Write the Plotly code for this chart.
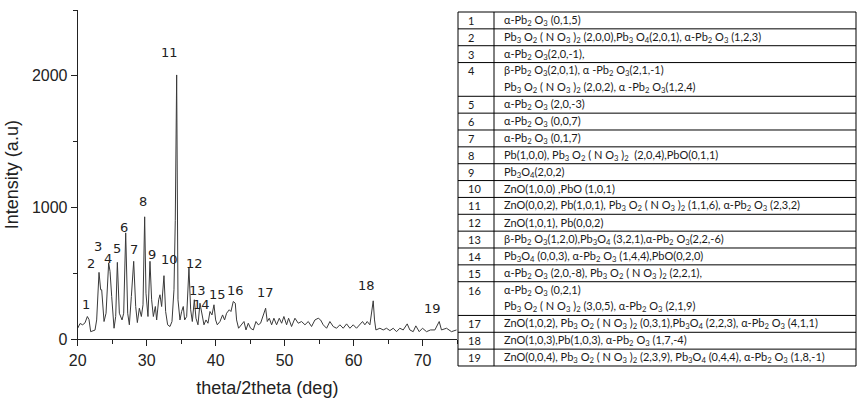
import plotly.graph_objects as go

# ---- spectrum data ----
two_theta = [20.0, 20.34, 20.72, 21.06, 21.4, 21.64, 21.88, 22.51, 22.75, 23.09, 23.33, 23.48, 23.82, 24.11,
             24.49, 24.69, 24.93, 25.27, 25.51, 25.75, 26.04, 26.43, 26.67, 26.96, 27.25, 27.49, 27.78, 28.12,
             28.41, 28.65, 28.94, 29.23, 29.47, 29.71, 29.90, 30.19, 30.48, 30.72, 30.97, 31.26, 31.45, 31.74,
             31.93, 32.17, 32.51, 32.75, 33.04, 33.38, 33.67, 33.96, 34.15, 34.35, 34.54, 34.83, 35.07, 35.31,
             35.51, 35.80, 36.13, 36.38, 36.62, 36.91, 37.15, 37.44, 37.73, 38.02, 38.31, 38.60, 38.89, 39.18,
             39.47, 39.76, 40.0, 40.24, 40.63, 41.01, 41.30, 41.59, 41.98, 42.22, 42.56, 42.85, 43.04, 43.33,
             43.72, 44.11, 44.40, 44.73, 45.07, 45.46, 45.85, 46.18, 46.52, 46.91, 47.25, 47.49, 47.78, 48.12,
             48.45, 48.84, 49.23, 49.57, 49.90, 50.29, 50.58, 51.01, 51.50, 51.98, 52.46, 52.95, 53.43, 53.91,
             54.40, 54.88, 55.22, 55.60, 56.09, 56.57, 57.05, 57.54, 58.02, 58.50, 58.99, 59.47, 59.95, 60.43,
             60.92, 61.30, 61.64, 61.98, 62.37, 62.61, 62.85, 63.04, 63.24, 63.82, 64.30, 64.78, 65.27, 65.75,
             66.23, 66.71, 67.20, 67.78, 68.16, 68.65, 69.03, 69.52, 70.0, 70.58, 71.16, 71.79, 72.42, 72.75,
             73.48, 74.20, 74.93]
intensity = [84, 120, 110, 125, 173, 150, 58, 70, 147, 508, 376, 376, 135, 198,
             580, 515, 325, 84, 173, 584, 198, 147, 198, 808, 198, 110, 325, 592,
             249, 127, 236, 173, 262, 930, 350, 173, 592, 300, 173, 249, 147, 300,
             338, 249, 483, 211, 110, 97, 135, 376, 900, 2007, 300, 147, 211, 249,
             147, 173, 541, 224, 135, 300, 160, 110, 274, 198, 110, 147, 122, 211,
             185, 262, 147, 110, 135, 185, 147, 198, 224, 211, 287, 274, 147, 84,
             110, 135, 71, 122, 84, 71, 135, 110, 122, 185, 236, 135, 160, 110,
             160, 110, 160, 122, 173, 110, 160, 97, 160, 122, 135, 110, 135, 97,
             147, 160, 147, 110, 84, 135, 97, 84, 110, 84, 117, 84, 110, 84,
             110, 135, 110, 135, 110, 198, 292, 147, 71, 84, 71, 84, 66, 84,
             58, 84, 71, 117, 71, 58, 102, 58, 84, 58, 71, 71, 135, 71,
             84, 58, 71]

# ---- peak labels ----
peak_ids = [str(i) for i in range(1, 20)]
peak_x = [21.2, 22.0, 22.9, 24.4, 25.7, 26.7, 28.2, 29.5, 30.8, 33.3, 33.3, 36.9, 37.3, 38.0, 40.2, 42.9, 47.2, 61.9, 71.4]
peak_y = [268, 572, 702, 616, 693, 848, 678, 1045, 641, 608, 2175, 578, 368, 268, 337, 368, 353, 406, 231]

# ---- table ----
A = "α-Pb<sub>2</sub> O<sub>3</sub>"
N = "Pb<sub>3</sub> O<sub>2</sub> ( N O<sub>3</sub> )<sub>2</sub>"
P34 = "Pb<sub>3</sub>O<sub>4</sub>"
row_labels = peak_ids
row_texts = [
    A + " (0,1,5)",
    N + " (2,0,0),Pb<sub>3</sub> O<sub>4</sub>(2,0,1), " + A + " (1,2,3)",
    A + "(2,0,-1),",
    "β-Pb<sub>2</sub> O<sub>3</sub>(2,0,1), α -Pb<sub>2</sub> O<sub>3</sub>(2,1,-1)<br>" + N + " (2,0,2), α -Pb<sub>2</sub> O<sub>3</sub>(1,2,4)",
    A + " (2,0,-3)",
    A + " (0,0,7)",
    A + " (0,1,7)",
    "Pb(1,0,0), " + N + "  (2,0,4),PbO(0,1,1)",
    P34 + "(2,0,2)",
    "ZnO(1,0,0) ,PbO (1,0,1)",
    "ZnO(0,0,2), Pb(1,0,1), " + N + " (1,1,6), " + A + " (2,3,2)",
    "ZnO(1,0,1), Pb(0,0,2)",
    "β-Pb<sub>2</sub> O<sub>3</sub>(1,2,0)," + P34 + " (3,2,1)," + A + "(2,2,-6)",
    P34 + " (0,0,3), " + A + " (1,4,4),PbO(0,2,0)",
    A + " (2,0,-8), " + N + " (2,2,1),",
    A + " (0,2,1)<br>" + N + " (3,0,5), " + A + " (2,1,9)",
    "ZnO(1,0,2), " + N + " (0,3,1)," + P34 + " (2,2,3), " + A + " (4,1,1)",
    "ZnO(1,0,3),Pb(1,0,3), " + A + " (1,7,-4)",
    "ZnO(0,0,4), " + N + " (2,3,9), " + P34 + " (0,4,4), " + A + " (1,8,-1)",
]

W, H = 859, 398
fig = go.Figure()
fig.add_trace(go.Scatter(x=two_theta, y=intensity, mode="lines",
                         line=dict(color="#3a3a3a", width=1), showlegend=False))

for t, x, y in zip(peak_ids, peak_x, peak_y):
    fig.add_annotation(x=x, y=y, text=t, showarrow=False, xref="x", yref="y",
                       xanchor="center", yanchor="middle",
                       font=dict(family="DejaVu Sans", size=13, color="#222"))

# table drawn as layout lines + text (pixel geometry -> paper fractions)
tab_left, tab_mid, tab_right = 458, 494, 856
tab_top, unit = 12.0, 16.857
px = lambda v: v / W
py = lambda v: 1 - v / H
tfont = dict(family="Lato", size=11, color="#1a1a1a")
line_style = dict(color="black", width=1)

y_cur = tab_top
bounds = [y_cur]
for lab, txt in zip(row_labels, row_texts):
    lines = txt.split("<br>")
    nun = len(lines)
    for k, ln in enumerate(lines):
        yc = y_cur + unit * (k + 0.5)
        if k == 0:
            fig.add_annotation(x=px(466), y=py(yc), xref="paper", yref="paper", text=lab,
                               showarrow=False, xanchor="left", yanchor="middle", font=tfont)
        fig.add_annotation(x=px(502), y=py(yc), xref="paper", yref="paper", text=ln,
                           showarrow=False, xanchor="left", yanchor="middle", font=tfont)
    y_cur += unit * nun
    bounds.append(y_cur)

for b in bounds:
    fig.add_shape(type="line", xref="paper", yref="paper", x0=px(tab_left), x1=px(tab_right),
                  y0=py(b), y1=py(b), line=line_style)
for xv in (tab_left, tab_mid, tab_right):
    fig.add_shape(type="line", xref="paper", yref="paper", x0=px(xv), x1=px(xv),
                  y0=py(bounds[0]), y1=py(bounds[-1]), line=line_style)

axis_font = dict(family="Liberation Sans, Arial", size=16, color="#222")
title_font = dict(family="Liberation Sans, Arial", size=18, color="#222")
fig.update_layout(
    template="none",
    width=W, height=H,
    margin=dict(l=0, r=0, t=0, b=0),
    paper_bgcolor="white", plot_bgcolor="white",
    xaxis=dict(domain=[77.7/W, 457/W], range=[20, 75], dtick=10, tick0=20,
               showgrid=False, zeroline=False, showline=True, linecolor="#222", linewidth=1,
               ticks="outside", ticklen=6, tickcolor="#222", tickfont=axis_font,
               minor=dict(dtick=5, ticks="outside", ticklen=4, tickcolor="#222"),
               title=dict(text="theta/2theta (deg)", font=title_font, standoff=18),
               automargin=False),
    yaxis=dict(domain=[1 - 339.3/H, 1 - 10/H], range=[0, 2500], dtick=1000,
               showgrid=False, zeroline=False, showline=True, linecolor="#222", linewidth=1,
               ticks="outside", ticklen=6, tickcolor="#222", tickfont=axis_font,
               minor=dict(dtick=500, ticks="outside", ticklen=4, tickcolor="#222"),
               title=dict(text="Intensity (a.u)", font=title_font, standoff=8),
               automargin=False),
)

fig.write_html("out.html", config={"displayModeBar": False},
               post_script="document.body.style.margin='0';")
